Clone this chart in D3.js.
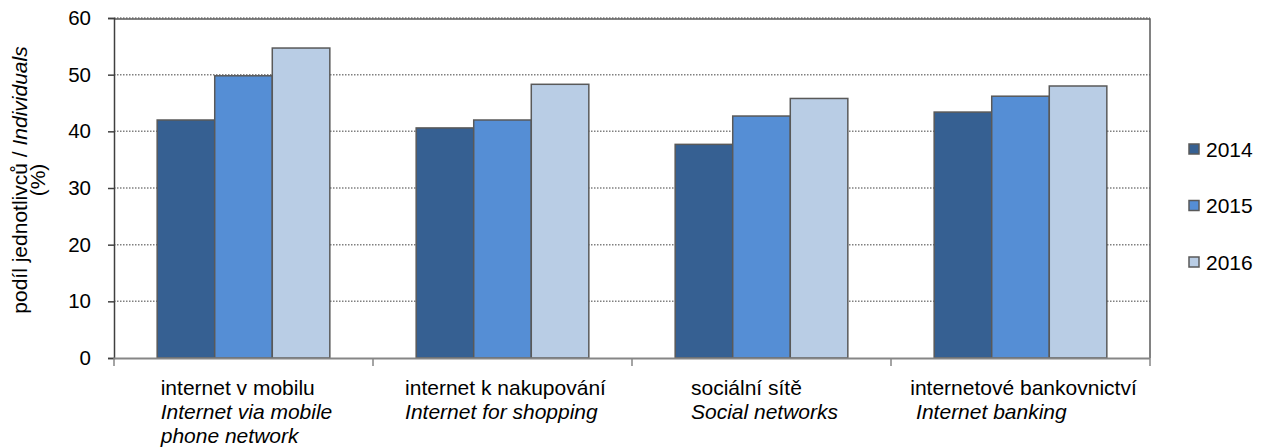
<!DOCTYPE html>
<html>
<head>
<meta charset="utf-8">
<script src="https://cdn.jsdelivr.net/npm/d3@7"></script>
<style>
    body { margin: 0; background: #fff; }
    svg { display: block; font-family: "Liberation Sans", Arial, sans-serif; }
</style>
</head>
<body>
<div id="chart"></div>
<script>
// data
const categories = ['mobile', 'shopping', 'social', 'banking'];
const catLabelsCz = ['internet v mobilu', 'internet k nakupování', 'sociální sítě', 'internetové bankovnictví'];
const catLabelsEn = [['Internet via mobile', 'phone network'], ['Internet for shopping'], ['Social networks'], [' Internet banking']];
const years = ['2014', '2015', '2016'];
const values2014 = [42.0, 40.6, 37.7, 43.4];
const values2015 = [49.8, 42.0, 42.7, 46.2];
const values2016 = [54.7, 48.3, 45.8, 48.0];
const yTicks = [0, 10, 20, 30, 40, 50, 60];
const colors = ['#366092', '#558ED5', '#B9CDE5'];

const series = [values2014, values2015, values2016];

const width = 1263;
const height = 448;
const plot = { left: 114, right: 1150, top: 18, bottom: 358 };

const svg = d3.select('#chart')
    .append('svg')
    .attr('width', width)
    .attr('height', height);

const x = d3.scaleBand()
    .domain(categories)
    .range([plot.left, plot.right]);

// gap width 150 % like the Excel original
const bw = x.bandwidth();
const barW = bw / 4.5;
const xInner = d3.scaleBand()
    .domain(years)
    .range([barW * 0.75, bw - barW * 0.75]);

const y = d3.scaleLinear()
    .domain([0, 60])
    .range([plot.bottom, plot.top]);

// gridlines
svg.append('g')
    .selectAll('line')
    .data(yTicks.filter(d => d > 0))
    .join('line')
    .attr('x1', plot.left)
    .attr('x2', plot.right)
    .attr('y1', d => y(d))
    .attr('y2', d => y(d))
    .attr('stroke', '#808080')
    .attr('stroke-width', 1.5)
    .attr('stroke-dasharray', '1.5,1.5');

// top and right border
svg.append('path')
    .attr('d', `M${plot.left},${plot.top + 1}H${plot.right}V${plot.bottom}`)
    .attr('fill', 'none')
    .attr('stroke', '#595959')
    .attr('stroke-width', 1.5);

// bars
const groups = svg.append('g')
    .selectAll('g')
    .data(categories)
    .join('g')
    .attr('transform', d => `translate(${x(d)},0)`);

groups.selectAll('rect')
    .data((d, i) => years.map((yr, j) => ({ year: yr, value: series[j][i], j })))
    .join('rect')
    .attr('x', d => xInner(d.year))
    .attr('width', xInner.bandwidth())
    .attr('y', d => y(d.value))
    .attr('height', d => y(0) - y(d.value))
    .attr('fill', d => colors[d.j])
    .attr('stroke', '#595959')
    .attr('stroke-width', 1.5);

// y axis
const yAxis = svg.append('g')
    .attr('transform', `translate(${plot.left},0)`)
    .call(d3.axisLeft(y).tickValues(yTicks).tickSize(6).tickPadding(17));
yAxis.select('.domain').attr('stroke', '#404040').attr('stroke-width', 1.5);
yAxis.selectAll('.tick line').attr('stroke', '#404040').attr('stroke-width', 1.5);
yAxis.selectAll('.tick text')
    .attr('font-size', 20.5)
    .attr('font-family', '"Liberation Sans", Arial, sans-serif')
    .attr('fill', '#000');

// x axis (ticks between categories)
const xAxisG = svg.append('g');
xAxisG.append('line')
    .attr('x1', plot.left)
    .attr('x2', plot.right)
    .attr('y1', plot.bottom + 0.5)
    .attr('y2', plot.bottom + 0.5)
    .attr('stroke', '#868686')
    .attr('stroke-width', 2);
xAxisG.selectAll('.xtick')
    .data(categories.map(c => x(c)).concat([plot.right]))
    .join('line')
    .attr('class', 'xtick')
    .attr('x1', d => d)
    .attr('x2', d => d)
    .attr('y1', plot.bottom)
    .attr('y2', plot.bottom + 8)
    .attr('stroke', '#868686')
    .attr('stroke-width', 1.5);

// category labels: block centred, lines left aligned
categories.forEach((c, i) => {
    const g = svg.append('g');
    const lines = [{ text: catLabelsCz[i], italic: false }]
        .concat(catLabelsEn[i].map(t => ({ text: t, italic: true })));
    const texts = g.selectAll('text')
        .data(lines)
        .join('text')
        .attr('y', (d, k) => 395 + k * 24)
        .attr('font-size', 21)
        .attr('fill', '#000')
        .attr('font-style', d => d.italic ? 'italic' : 'normal')
        .style('white-space', 'pre')
        .text(d => d.text);
    let maxW = 0;
    texts.each(function() { maxW = Math.max(maxW, this.getComputedTextLength()); });
    texts.attr('x', x(c) + bw / 2 - maxW / 2 + 3);
});

// y axis title
const yTitle = svg.append('text')
    .attr('transform', 'translate(27,180) rotate(-90)')
    .attr('text-anchor', 'middle')
    .attr('font-size', 21)
    .attr('fill', '#000');
yTitle.append('tspan').attr('x', 0).text('podíl jednotlivců / ');
yTitle.append('tspan').attr('font-style', 'italic').text('Individuals');
yTitle.append('tspan').attr('x', 0).attr('dy', 18).text('(%)');

// legend
const legend = svg.append('g')
    .selectAll('g')
    .data(years)
    .join('g')
    .attr('transform', (d, i) => `translate(1189,${149 + i * 56.5})`);
legend.append('rect')
    .attr('x', 0)
    .attr('y', -5)
    .attr('width', 10)
    .attr('height', 10)
    .attr('fill', (d, i) => colors[i])
    .attr('stroke', '#595959')
    .attr('stroke-width', 1.5);
legend.append('text')
    .attr('x', 17)
    .attr('dy', '0.36em')
    .attr('font-size', 21)
    .attr('fill', '#000')
    .text(d => d);
</script>
</body>
</html>
